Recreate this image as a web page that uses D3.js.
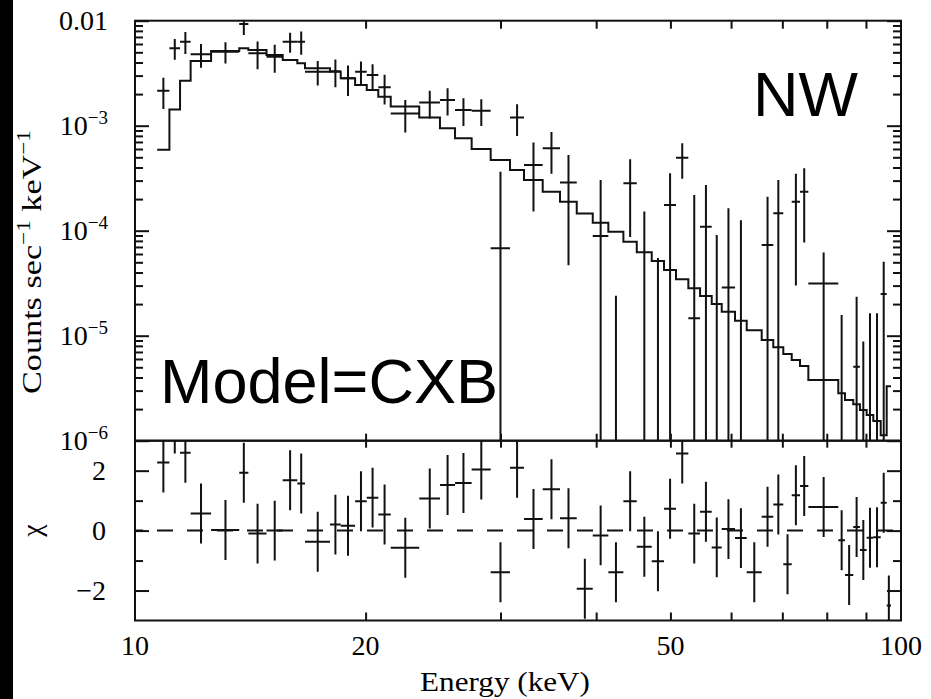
<!DOCTYPE html>
<html>
<head>
<meta charset="utf-8">
<script src="https://cdn.jsdelivr.net/npm/d3@7"></script>
<style>
  body { margin: 0; background: #fff; }
  svg { display: block; }
  text { fill: #000; }
</style>
</head>
<body>
<svg id="chart" width="931" height="699"></svg>
<script>
// Spectral bins (keV): edges of the 54 grouped channels
const binEdges = [10.69, 11.09, 11.45, 11.82, 12.57, 13.68, 14.06, 14.85, 15.59, 16.29,
  16.67, 17.97, 18.56, 19.38, 20.07, 20.78, 21.57, 23.50, 25.01, 26.17,
  27.51, 29.13, 30.87, 32.20, 34.06, 35.88, 37.73, 39.59, 41.49, 43.41,
  45.19, 47.27, 49.05, 50.85, 52.77, 54.66, 56.61, 58.34, 60.72, 62.89,
  65.79, 68.12, 70.20, 72.00, 73.82, 75.69, 82.82, 84.50, 86.63, 88.39,
  90.19, 92.01, 94.08, 95.79, 97.04];

// Folded CXB model (counts s^-1 keV^-1) per bin
const modelRate = [5.91e-4, 1.43e-3, 2.68e-3, 4.13e-3, 5.14e-3, 5.46e-3, 5.26e-3, 4.71e-3, 4.22e-3, 3.93e-3,
  3.52e-3, 3.27e-3, 2.83e-3, 2.44e-3, 2.19e-3, 1.89e-3, 1.52e-3, 1.20e-3, 9.45e-4, 7.59e-4,
  6.00e-4, 4.71e-4, 3.78e-4, 3.04e-4, 2.35e-4, 1.89e-4, 1.46e-4, 1.19e-4, 9.78e-5, 7.86e-5,
  6.23e-5, 5.14e-5, 4.22e-5, 3.44e-5, 2.83e-5, 2.39e-5, 2.00e-5, 1.69e-5, 1.39e-5, 1.13e-5,
  9.10e-6, 7.75e-6, 6.69e-6, 5.87e-6, 5.14e-6, 3.78e-6, 2.83e-6, 2.44e-6, 2.22e-6, 1.96e-6,
  1.76e-6, 1.54e-6, 1.13e-6, 3.30e-6];

// Observed count rate and 1-sigma error per bin
const rate = [2.15e-3, 5.46e-3, 6.31e-3, 4.79e-3, 5.07e-3, 9.30e-3, 4.89e-3, 4.54e-3, 6.31e-3, 6.31e-3,
  3.27e-3, 3.30e-3, 2.83e-3, 3.27e-3, 3.04e-3, 2.32e-3, 1.31e-3, 1.66e-3, 1.76e-3, 1.41e-3,
  1.39e-3, 6.80e-5, 1.20e-3, 4.22e-4, 6.09e-4, 2.87e-4, -1.60e-4, 8.90e-5, -1.64e-4, 2.83e-4,
  -4.30e-5, -6.50e-5, 1.76e-4, 4.96e-4, 1.47e-5, 1.09e-4, -7.00e-5, 2.87e-5, -2.40e-5, -1.97e-4,
  7.31e-5, 1.47e-4, -1.61e-4, 1.89e-4, 2.35e-4, 3.15e-5, -3.25e-6, -1.98e-5, 5.07e-6, -1.07e-5,
  -2.80e-6, -2.60e-6, 2.50e-5, -2.17e-5];
const rateErr = [7.1e-4, 1.22e-3, 1.50e-3, 1.22e-3, 1.15e-3, 2.00e-3, 1.45e-3, 1.35e-3, 1.35e-3, 1.58e-3,
  8.6e-4, 9.8e-4, 9.1e-4, 8.2e-4, 8.0e-4, 7.3e-4, 4.5e-4, 4.9e-4, 5.1e-4, 4.15e-4,
  3.95e-4, 2.97e-4, 4.0e-4, 2.7e-4, 2.6e-4, 2.4e-4, 1.5e-4, 2.15e-4, 1.88e-4, 1.96e-4,
  1.95e-4, 1.2e-4, 1.76e-4, 1.84e-4, 2.04e-4, 1.63e-4, 1.61e-4, 1.35e-4, 1.5e-4, 1.5e-4,
  1.38e-4, 1.57e-4, 1.5e-4, 1.59e-4, 1.58e-4, 3.05e-5, 1.9e-5, 1.5e-5, 1.84e-5, 1.95e-5,
  1.92e-5, 1.9e-5, 2.57e-5, 1.0e-5];

// Residuals (data - model) / error
const chi = [2.27, 3.57, 2.6, 0.57, 0.02, 1.93, -0.1, 0, 1.68, 1.57,
  -0.37, 0.2, 0.16, 0.98, 1.1, 0.54, -0.57, 1.07, 1.52, 1.59,
  2.04, -1.39, 2.1, 0.39, 1.38, 0.41, -1.94, -0.16, -1.39, 0.98,
  -0.54, -1.02, 0.73, 2.57, -0.1, 0.63, -0.56, 0.05, -0.25, -1.39,
  0.46, 0.87, -1.12, 1.18, 1.49, 0.79, -0.32, -1.48, 0.12, -0.65,
  -0.24, -0.22, 0.93, -2.5];

const energyLabels = [10, 20, 50, 100];
const energyMinor = [20, 30, 40, 50, 60, 70, 80, 90];
const rateDecades = [-2, -3, -4, -5, -6];
const chiMajor = [-2, 0, 2];
const chiMinor = [-1, 1];

const W = 931, H = 699;
const plotL = 135, plotR = 901, plotT = 20.7, plotM = 440.7, plotB = 620.5;
const ink = '#111';
const serif = '"Liberation Serif", "Times New Roman", serif';
const sans = '"Liberation Sans", Arial, sans-serif';

const svg = d3.select('#chart');
svg.append('rect').attr('width', W).attr('height', H).attr('fill', '#fff');
svg.append('rect').attr('x', 0).attr('y', 0).attr('width', 13).attr('height', H).attr('fill', '#000');

const x = d3.scaleLog().domain([10, 100]).range([plotL, plotR]);
const yRate = d3.scaleLog().domain([1e-6, 1e-2]).range([plotM, plotT]);
const yChi = d3.scaleLinear().domain([-3, 3]).range([plotB, plotM]);

const defs = svg.append('defs');
defs.append('clipPath').attr('id', 'clipTop')
  .append('rect').attr('x', plotL).attr('y', plotT).attr('width', plotR - plotL).attr('height', plotM - plotT);
defs.append('clipPath').attr('id', 'clipBot')
  .append('rect').attr('x', plotL).attr('y', plotM).attr('width', plotR - plotL).attr('height', plotB - plotM);

const bins = rate.map((r, i) => ({
  lo: binEdges[i], hi: binEdges[i + 1], mid: (binEdges[i] + binEdges[i + 1]) / 2,
  model: modelRate[i], rate: r, err: rateErr[i], chi: chi[i]
}));

// ---------- upper panel: spectrum ----------
const gTop = svg.append('g').attr('clip-path', 'url(#clipTop)');
const floorRate = 1e-8;
const safeY = v => yRate(Math.max(v, floorRate));

// folded model as a step histogram
const stepPts = bins.map(b => [b.lo, b.model]);
stepPts.push([binEdges[binEdges.length - 1], modelRate[modelRate.length - 1]]);
gTop.append('path')
  .attr('d', d3.line().x(d => x(d[0])).y(d => safeY(d[1])).curve(d3.curveStepAfter)(stepPts))
  .attr('fill', 'none').attr('stroke', ink).attr('stroke-width', 2);

// data crosses
bins.forEach(b => {
  const hiV = b.rate + b.err, loV = b.rate - b.err;
  if (hiV > 1e-6) {
    gTop.append('line')
      .attr('x1', x(b.mid)).attr('x2', x(b.mid))
      .attr('y1', safeY(hiV)).attr('y2', safeY(loV))
      .attr('stroke', ink).attr('stroke-width', 2);
  }
  if (b.rate > 1e-6) {
    gTop.append('line')
      .attr('x1', x(b.lo)).attr('x2', x(b.hi))
      .attr('y1', yRate(b.rate)).attr('y2', yRate(b.rate))
      .attr('stroke', ink).attr('stroke-width', 2);
  }
});

// ---------- lower panel: residuals ----------
const gBot = svg.append('g').attr('clip-path', 'url(#clipBot)');
gBot.append('line')
  .attr('x1', x(10)).attr('x2', x(100)).attr('y1', yChi(0)).attr('y2', yChi(0))
  .attr('stroke', ink).attr('stroke-width', 2)
  .attr('stroke-dasharray', '16 14').attr('stroke-dashoffset', 8);
bins.forEach(b => {
  gBot.append('line')
    .attr('x1', x(b.mid)).attr('x2', x(b.mid))
    .attr('y1', yChi(b.chi + 1)).attr('y2', yChi(b.chi - 1))
    .attr('stroke', ink).attr('stroke-width', 2);
  gBot.append('line')
    .attr('x1', x(b.lo)).attr('x2', x(b.hi))
    .attr('y1', yChi(b.chi)).attr('y2', yChi(b.chi))
    .attr('stroke', ink).attr('stroke-width', 2);
});

// ---------- axes (inward ticks on all sides) ----------
function styleAxis(g) {
  g.select('.domain').remove();
  g.selectAll('line').attr('stroke', ink).attr('stroke-width', 2);
  g.selectAll('text').remove();
}
const decadeVals = rateDecades.map(p => Math.pow(10, p));
const rateMinor = [];
rateDecades.slice(1).forEach(p => {
  for (let k = 2; k <= 9; k++) rateMinor.push(k * Math.pow(10, p));
});

// rate axis, left and right
svg.append('g').attr('transform', `translate(${plotL},0)`)
  .call(d3.axisRight(yRate).tickValues(decadeVals).tickSize(14)).call(styleAxis);
svg.append('g').attr('transform', `translate(${plotL},0)`)
  .call(d3.axisRight(yRate).tickValues(rateMinor).tickSize(8)).call(styleAxis);
svg.append('g').attr('transform', `translate(${plotR},0)`)
  .call(d3.axisLeft(yRate).tickValues(decadeVals).tickSize(14)).call(styleAxis);
svg.append('g').attr('transform', `translate(${plotR},0)`)
  .call(d3.axisLeft(yRate).tickValues(rateMinor).tickSize(8)).call(styleAxis);

// chi axis, left and right
svg.append('g').attr('transform', `translate(${plotL},0)`)
  .call(d3.axisRight(yChi).tickValues(chiMajor).tickSize(14)).call(styleAxis);
svg.append('g').attr('transform', `translate(${plotL},0)`)
  .call(d3.axisRight(yChi).tickValues(chiMinor).tickSize(8)).call(styleAxis);
svg.append('g').attr('transform', `translate(${plotR},0)`)
  .call(d3.axisLeft(yChi).tickValues(chiMajor).tickSize(14)).call(styleAxis);
svg.append('g').attr('transform', `translate(${plotR},0)`)
  .call(d3.axisLeft(yChi).tickValues(chiMinor).tickSize(8)).call(styleAxis);

// energy ticks on each horizontal frame line
svg.append('g').attr('transform', `translate(0,${plotT})`)
  .call(d3.axisBottom(x).tickValues(energyMinor).tickSize(8)).call(styleAxis);
svg.append('g').attr('transform', `translate(0,${plotM})`)
  .call(d3.axisTop(x).tickValues(energyMinor).tickSize(7)).call(styleAxis);
svg.append('g').attr('transform', `translate(0,${plotM})`)
  .call(d3.axisBottom(x).tickValues(energyMinor).tickSize(7)).call(styleAxis);
svg.append('g').attr('transform', `translate(0,${plotB})`)
  .call(d3.axisTop(x).tickValues(energyMinor).tickSize(8)).call(styleAxis);

// frames
svg.append('rect').attr('x', plotL).attr('y', plotT).attr('width', plotR - plotL).attr('height', plotM - plotT)
  .attr('fill', 'none').attr('stroke', ink).attr('stroke-width', 2);
svg.append('rect').attr('x', plotL).attr('y', plotM).attr('width', plotR - plotL).attr('height', plotB - plotM)
  .attr('fill', 'none').attr('stroke', ink).attr('stroke-width', 2);

// ---------- labels ----------
const labelX = 108;
rateDecades.forEach(p => {
  const t = svg.append('text')
    .attr('x', labelX).attr('y', yRate(Math.pow(10, p)) + 9.5)
    .attr('text-anchor', 'end')
    .style('font-family', serif).style('font-size', '28px');
  if (p === -2) {
    t.text('0.01');
  } else {
    t.append('tspan').text('10');
    t.append('tspan').attr('dy', -11).style('font-size', '19px').text('\u2212' + (-p));
  }
});
chiMajor.forEach(v => {
  svg.append('text')
    .attr('x', labelX - 2).attr('y', yChi(v) + 9.5)
    .attr('text-anchor', 'end')
    .style('font-family', serif).style('font-size', '28px')
    .text(v < 0 ? '\u2212' + (-v) : String(v));
});
energyLabels.forEach(v => {
  svg.append('text')
    .attr('x', x(v)).attr('y', 655)
    .attr('text-anchor', 'middle')
    .style('font-family', serif).style('font-size', '28px')
    .text(String(v));
});

// stretch a text node along its reading direction to a given length
function fitLength(sel, target) {
  const w = sel.node().getComputedTextLength();
  return w > 0 ? target / w : 1;
}

const xTitleG = svg.append('g').attr('transform', 'translate(505,691)');
const xTitle = xTitleG.append('text')
  .attr('text-anchor', 'middle')
  .style('font-family', serif).style('font-size', '28px')
  .text('Energy (keV)');
xTitle.attr('transform', `scale(${fitLength(xTitle, 170)},1)`);

const yTitleG = svg.append('g').attr('transform', 'translate(41,262) rotate(-90)');
const yTitle = yTitleG.append('text')
  .attr('text-anchor', 'middle')
  .style('font-family', serif).style('font-size', '28px');
yTitle.append('tspan').text('Counts sec');
yTitle.append('tspan').attr('dy', -11).style('font-size', '19px').text('\u22121');
yTitle.append('tspan').attr('dy', 11).text(' keV');
yTitle.append('tspan').attr('dy', -11).style('font-size', '19px').text('\u22121');
yTitle.attr('transform', `scale(${fitLength(yTitle, 264)},1)`);

svg.append('text')
  .attr('transform', `translate(41,${yChi(0)}) rotate(-90)`)
  .attr('text-anchor', 'middle')
  .style('font-family', serif).style('font-size', '28px')
  .text('\u03c7');

svg.append('text')
  .attr('x', 753).attr('y', 116)
  .style('font-family', sans).style('font-size', '63px')
  .text('NW');
svg.append('text')
  .attr('x', 160).attr('y', 403)
  .style('font-family', sans).style('font-size', '63px')
  .text('Model=CXB');
</script>
</body>
</html>
